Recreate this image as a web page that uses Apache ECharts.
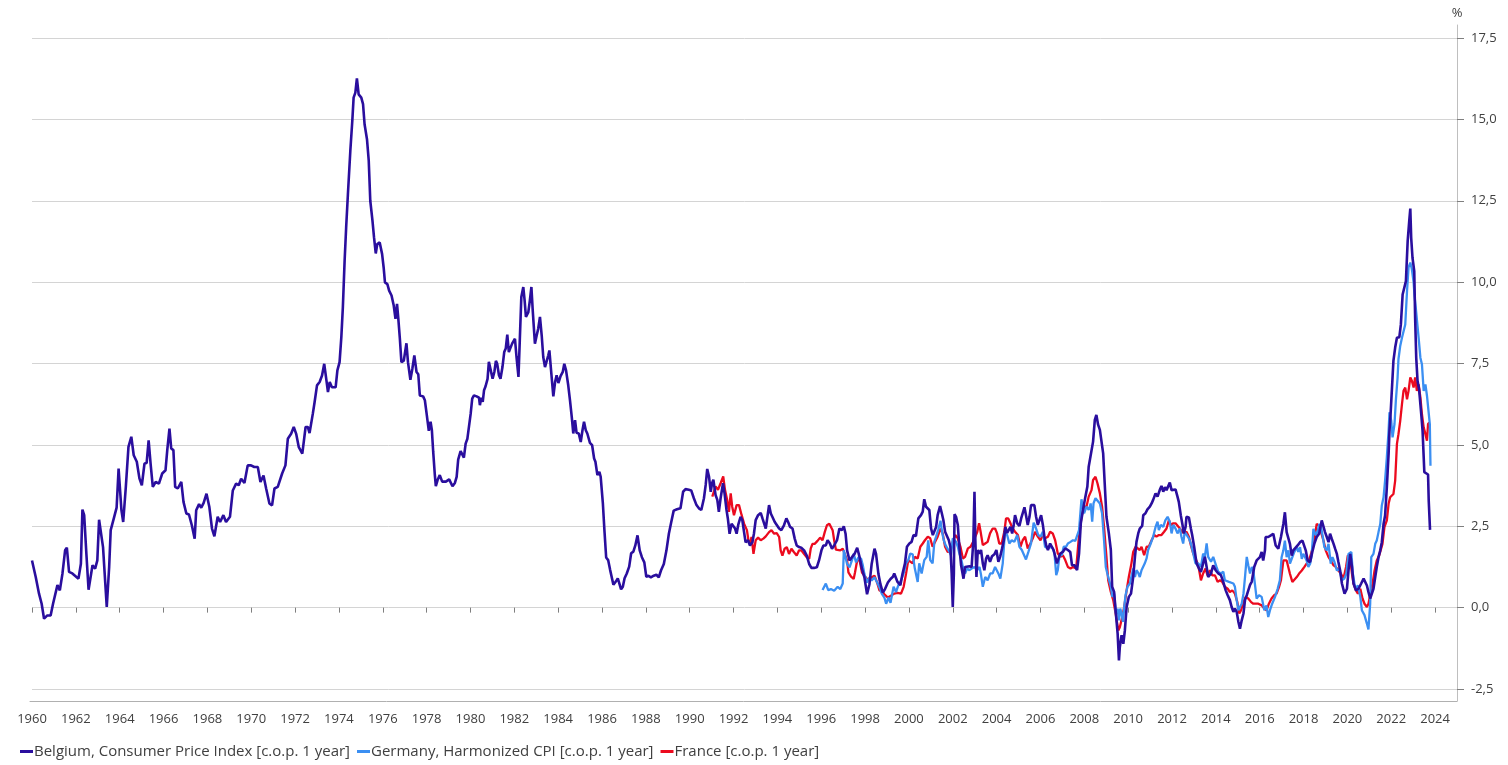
<!DOCTYPE html>
<html>
<head>
<meta charset="utf-8">
<title>Inflation: Belgium, Germany, France</title>
<script src="https://cdn.jsdelivr.net/npm/echarts@6/dist/echarts.min.js"></script>
<style>
  html, body { margin: 0; padding: 0; background: #fff; }
  #chart { width: 1508px; height: 765px; }
</style>
</head>
<body>
<div id="chart"></div>
<script>
// tick labels
const xTickYears = [];
for (let y = 1960; y <= 2024; y += 2) xTickYears.push(y);
const yTickValues = [-2.5, 0, 2.5, 5, 7.5, 10, 12.5, 15, 17.5];

const seriesNames = [
  'Belgium, Consumer Price Index [c.o.p. 1 year]',
  'Germany, Harmonized CPI [c.o.p. 1 year]',
  'France [c.o.p. 1 year]'
];

// [year, % change on previous year]
const belgium = [
  [1960.00,1.45],[1960.17,0.94],[1960.32,0.43],[1960.44,0.12],[1960.55,-0.34],[1960.70,-0.24],[1960.85,-0.24],[1960.96,0.12],
  [1961.16,0.69],[1961.27,0.53],[1961.39,1.05],[1961.51,1.76],[1961.59,1.84],[1961.69,1.10],[1961.84,1.05],[1962.12,0.89],
  [1962.23,1.35],[1962.30,3.01],[1962.38,2.84],[1962.48,1.66],[1962.58,0.55],[1962.76,1.30],[1962.88,1.20],[1962.98,1.45],
  [1963.06,2.70],[1963.14,2.68],[1963.24,1.86],[1963.41,0.02],[1963.52,1.25],[1963.59,2.38],[1963.75,2.79],[1963.86,3.07],
  [1963.95,4.27],[1964.01,4.32],[1964.08,2.99],[1964.16,2.63],[1964.28,3.71],[1964.40,4.94],[1964.53,5.25],[1964.64,4.68],
  [1964.78,4.48],[1964.90,3.97],[1965.01,3.76],[1965.13,4.42],[1965.23,4.45],[1965.32,5.14],[1965.41,4.42],[1965.51,3.71],
  [1965.64,3.86],[1965.79,3.81],[1965.94,4.12],[1966.09,4.22],[1966.17,4.84],[1966.27,5.50],[1966.35,4.89],[1966.45,4.84],
  [1966.53,3.71],[1966.65,3.66],[1966.81,3.86],[1966.91,3.25],[1967.04,2.89],[1967.16,2.86],[1967.29,2.53],[1967.42,2.12],
  [1967.49,2.99],[1967.62,3.18],[1967.72,3.07],[1967.83,3.22],[1967.96,3.50],[1968.09,3.09],[1968.21,2.43],[1968.32,2.19],
  [1968.47,2.79],[1968.58,2.63],[1968.73,2.84],[1968.85,2.63],[1969.03,2.79],[1969.16,3.60],[1969.31,3.81],[1969.43,3.76],
  [1969.54,3.96],[1969.69,3.83],[1969.84,4.37],[1969.99,4.37],[1970.14,4.32],[1970.30,4.32],[1970.42,3.86],[1970.56,4.06],
  [1970.68,3.66],[1970.83,3.20],[1970.95,3.14],[1971.06,3.66],[1971.21,3.71],[1971.41,4.12],[1971.56,4.37],[1971.67,5.19],
  [1971.82,5.34],[1971.94,5.55],[1972.05,5.34],[1972.17,4.93],[1972.33,4.73],[1972.48,5.55],[1972.58,5.55],[1972.66,5.36],
  [1972.81,5.96],[1972.89,6.31],[1973.00,6.83],[1973.12,6.93],[1973.23,7.13],[1973.33,7.49],[1973.43,6.98],[1973.50,6.62],
  [1973.58,6.93],[1973.68,6.77],[1973.85,6.77],[1973.93,7.29],[1974.03,7.54],[1974.11,8.31],[1974.18,9.23],[1974.26,10.66],
  [1974.33,11.68],[1974.41,12.70],[1974.52,14.03],[1974.61,14.95],[1974.67,15.67],[1974.75,15.82],[1974.82,16.26],[1974.90,15.77],
  [1975.02,15.67],[1975.10,15.47],[1975.17,14.85],[1975.28,14.39],[1975.36,13.73],[1975.43,12.50],[1975.53,11.89],[1975.60,11.38],
  [1975.68,10.88],[1975.75,11.17],[1975.86,11.22],[1975.97,10.86],[1976.04,10.45],[1976.10,9.99],[1976.21,9.94],[1976.29,9.74],
  [1976.40,9.59],[1976.50,9.28],[1976.58,8.87],[1976.65,9.33],[1976.71,8.87],[1976.78,8.26],[1976.85,7.54],[1976.96,7.59],
  [1977.08,8.12],[1977.15,7.54],[1977.26,7.00],[1977.35,7.34],[1977.44,7.75],[1977.54,7.24],[1977.62,7.17],[1977.69,6.52],
  [1977.84,6.49],[1977.92,6.37],[1978.00,5.96],[1978.10,5.43],[1978.18,5.71],[1978.24,5.45],[1978.30,4.79],[1978.37,4.12],
  [1978.42,3.73],[1978.50,3.92],[1978.60,4.07],[1978.71,3.87],[1978.88,3.87],[1979.03,3.94],[1979.18,3.73],[1979.29,3.83],
  [1979.37,4.02],[1979.44,4.55],[1979.55,4.81],[1979.63,4.84],[1979.70,4.61],[1979.78,5.04],[1979.86,5.19],[1979.93,5.19],
  [1980.01,5.96],[1980.08,6.42],[1980.16,6.52],[1980.28,6.49],[1980.39,6.45],[1980.43,6.22],[1980.49,6.45],[1980.56,6.32],
  [1980.62,6.68],[1980.69,6.80],[1980.78,7.03],[1980.84,7.55],[1980.92,7.60],[1981.01,7.03],[1981.09,7.24],[1981.16,7.58],
  [1981.22,7.49],[1981.30,7.14],[1981.37,7.03],[1981.46,7.39],[1981.54,7.85],[1981.61,7.96],[1981.68,8.39],[1981.75,7.85],
  [1981.83,7.82],[1981.90,8.11],[1982.03,8.26],[1982.10,7.70],[1982.19,7.09],[1982.25,8.21],[1982.32,9.54],[1982.41,9.85],
  [1982.47,9.44],[1982.53,8.93],[1982.64,9.08],[1982.71,9.44],[1982.78,9.85],[1982.84,9.13],[1982.90,8.52],[1982.94,8.11],
  [1983.02,8.36],[1983.09,8.57],[1983.17,8.93],[1983.25,8.36],[1983.32,7.70],[1983.40,7.39],[1983.47,7.39],[1983.55,7.75],
  [1983.60,7.90],[1983.67,7.34],[1983.78,6.49],[1983.86,6.93],[1983.93,7.14],[1984.01,6.90],[1984.11,7.11],[1984.21,7.24],
  [1984.28,7.49],[1984.36,7.29],[1984.46,6.83],[1984.54,6.37],[1984.62,5.86],[1984.69,5.35],[1984.77,5.76],[1984.84,5.37],
  [1984.94,5.35],[1985.03,5.09],[1985.11,5.45],[1985.18,5.71],[1985.26,5.45],[1985.33,5.35],[1985.45,5.06],[1985.55,4.99],
  [1985.64,4.58],[1985.70,4.48],[1985.79,4.07],[1985.88,4.17],[1985.94,4.02],[1986.04,3.20],[1986.11,2.38],[1986.19,1.54],
  [1986.28,1.46],[1986.37,1.16],[1986.45,1.16],[1986.52,0.70],[1986.63,0.80],[1986.72,0.90],[1986.78,0.77],[1986.87,0.56],
  [1986.95,0.64],[1987.03,0.90],[1987.13,1.05],[1987.24,1.26],[1987.33,1.67],[1987.43,1.72],[1987.52,1.91],[1987.62,2.22],
  [1987.72,1.76],[1987.82,1.55],[1987.93,1.39],[1988.02,0.95],[1988.12,0.98],[1988.23,0.93],[1988.36,0.98],[1988.48,1.01],
  [1988.59,0.93],[1988.69,1.14],[1988.82,1.34],[1988.94,1.76],[1989.05,2.27],[1989.15,2.60],[1989.27,2.98],[1989.42,3.02],
  [1989.58,3.05],[1989.70,3.56],[1989.81,3.64],[1989.96,3.62],[1990.07,3.60],[1990.19,3.36],[1990.31,3.15],[1990.42,3.05],
  [1990.53,3.00],[1990.65,3.36],[1990.73,3.77],[1990.80,4.26],[1990.88,4.03],[1990.96,3.56],[1991.02,3.82],[1991.08,3.93],
  [1991.14,3.98],[1991.18,3.46],[1991.26,3.31],[1991.33,2.94],[1991.41,3.36],[1991.52,3.82],[1991.59,3.51],[1991.68,3.00],
  [1991.74,2.74],[1991.82,2.27],[1991.91,2.58],[1991.99,2.63],[1992.07,2.43],[1992.14,2.27],[1992.22,2.56],[1992.32,2.79],
  [1992.40,2.69],[1992.48,2.32],[1992.55,2.01],[1992.66,2.07],[1992.75,1.91],[1992.86,2.01],[1992.93,2.27],[1993.01,2.69],
  [1993.12,2.84],[1993.24,2.91],[1993.32,2.74],[1993.39,2.69],[1993.47,2.43],[1993.54,2.48],[1993.62,3.15],[1993.70,2.89],
  [1993.77,2.79],[1993.88,2.63],[1993.97,2.67],[1994.08,2.43],[1994.18,2.38],[1994.30,2.53],[1994.41,2.74],[1994.49,2.63],
  [1994.58,2.48],[1994.69,2.43],[1994.79,2.12],[1994.88,1.91],[1994.99,1.86],[1995.09,1.84],[1995.22,1.76],[1995.34,1.60],
  [1995.45,1.34],[1995.55,1.22],[1995.67,1.22],[1995.80,1.24],[1995.90,1.45],[1996.01,1.76],[1996.10,1.91],[1996.21,1.91],
  [1996.29,2.07],[1996.39,1.98],[1996.49,1.81],[1996.59,1.91],[1996.72,2.07],[1996.83,2.43],[1996.94,2.38],[1997.03,2.50],
  [1997.11,2.27],[1997.18,1.76],[1997.29,1.45],[1997.40,1.55],[1997.52,1.65],[1997.64,1.84],[1997.75,1.55],[1997.86,1.19],
  [1997.97,0.93],[1998.09,0.41],[1998.20,0.72],[1998.30,1.34],[1998.43,1.81],[1998.50,1.65],[1998.61,1.03],[1998.70,0.72],
  [1998.81,0.46],[1998.91,0.57],[1999.04,0.77],[1999.16,0.88],[1999.27,0.95],[1999.33,1.05],[1999.48,0.79],[1999.61,0.69],
  [1999.71,1.05],[1999.82,1.36],[1999.91,1.87],[2000.02,1.97],[2000.12,2.02],[2000.21,2.23],[2000.32,2.20],[2000.43,2.74],
  [2000.55,2.84],[2000.63,2.95],[2000.70,3.33],[2000.78,3.10],[2000.86,3.05],[2000.93,3.00],[2001.01,2.43],[2001.09,2.23],
  [2001.16,2.23],[2001.24,2.48],[2001.31,2.84],[2001.42,3.12],[2001.50,2.90],[2001.57,2.69],[2001.65,2.33],[2001.74,2.28],
  [2001.82,2.07],[2001.89,1.87],[2001.95,1.05],[2002.00,0.02],[2002.05,1.05],[2002.08,2.87],[2002.15,2.79],[2002.23,2.54],
  [2002.30,1.87],[2002.38,1.30],[2002.49,0.89],[2002.56,1.25],[2002.65,1.25],[2002.76,1.27],[2002.86,1.25],[2002.94,2.07],
  [2002.99,3.56],[2003.03,2.07],[2003.08,0.94],[2003.14,1.77],[2003.22,1.66],[2003.29,1.77],[2003.37,1.36],[2003.44,1.15],
  [2003.52,1.51],[2003.59,1.61],[2003.70,1.41],[2003.79,1.58],[2003.90,1.64],[2003.99,1.77],[2004.08,1.41],[2004.16,1.56],
  [2004.25,1.82],[2004.33,2.07],[2004.40,2.48],[2004.48,2.30],[2004.55,2.38],[2004.63,2.48],[2004.71,2.28],[2004.78,2.54],
  [2004.84,2.84],[2004.94,2.59],[2005.04,2.51],[2005.12,2.74],[2005.19,2.79],[2005.27,3.08],[2005.34,2.84],[2005.42,2.54],
  [2005.50,2.79],[2005.57,3.15],[2005.72,3.15],[2005.80,2.79],[2005.88,2.54],[2005.95,2.59],[2006.03,2.84],[2006.11,2.54],
  [2006.18,2.18],[2006.26,1.92],[2006.34,1.77],[2006.44,1.97],[2006.52,1.87],[2006.60,1.77],[2006.67,1.71],[2006.75,1.36],
  [2006.82,1.41],[2006.90,1.66],[2007.02,1.71],[2007.13,1.82],[2007.25,1.77],[2007.36,1.71],[2007.44,1.30],[2007.56,1.30],
  [2007.67,1.15],[2007.76,1.66],[2007.84,2.59],[2007.94,3.00],[2008.05,3.41],[2008.14,3.72],[2008.20,4.33],[2008.29,4.38],
  [2008.40,5.10],[2008.48,5.77],[2008.55,5.92],[2008.63,5.62],[2008.71,5.46],[2008.78,5.41],[2008.86,4.74],[2008.93,3.82],
  [2009.01,2.79],[2009.12,2.28],[2009.21,1.77],[2009.27,0.64],[2009.36,0.48],[2009.44,-0.18],[2009.52,-0.80],[2009.58,-1.62],
  [2009.62,-1.21],[2009.70,-0.85],[2009.78,-1.11],[2009.85,-0.70],[2009.93,0.02],[2010.03,0.33],[2010.13,0.43],[2010.23,0.94],
  [2010.31,1.56],[2010.38,2.02],[2010.46,2.28],[2010.53,2.43],[2010.64,2.51],[2010.69,2.84],[2010.79,2.90],[2010.88,3.02],
  [2010.99,3.10],[2011.07,3.20],[2011.14,3.31],[2011.25,3.51],[2011.34,3.41],[2011.44,3.61],[2011.52,3.74],[2011.60,3.56],
  [2011.68,3.70],[2011.75,3.61],[2011.83,3.67],[2011.90,3.84],[2011.98,3.61],[2012.06,3.67],[2012.16,3.63],[2012.25,3.41],
  [2012.31,3.25],[2012.40,2.84],[2012.48,2.54],[2012.54,2.28],[2012.62,2.48],[2012.66,2.79],[2012.77,2.77],[2012.86,2.43],
  [2012.92,2.23],[2013.01,1.87],[2013.12,1.36],[2013.23,1.20],[2013.32,1.10],[2013.42,1.36],[2013.50,1.56],[2013.58,1.25],
  [2013.65,0.94],[2013.78,1.05],[2013.88,1.30],[2013.99,1.15],[2014.11,1.05],[2014.23,1.00],[2014.34,0.79],[2014.45,0.53],
  [2014.54,0.38],[2014.64,0.23],[2014.72,0.02],[2014.80,-0.13],[2014.87,-0.03],[2014.95,-0.13],[2015.03,-0.44],[2015.10,-0.65],
  [2015.18,-0.39],[2015.26,-0.18],[2015.33,0.23],[2015.41,0.38],[2015.48,0.53],[2015.56,0.70],[2015.64,0.80],[2015.75,1.25],
  [2015.86,1.45],[2016.01,1.55],[2016.09,1.71],[2016.16,1.45],[2016.24,1.76],[2016.27,2.17],[2016.39,2.17],[2016.51,2.22],
  [2016.62,2.27],[2016.73,1.91],[2016.85,1.81],[2016.97,2.17],[2017.08,2.57],[2017.15,2.93],[2017.23,2.32],[2017.31,2.27],
  [2017.38,1.96],[2017.46,1.60],[2017.53,1.76],[2017.61,1.81],[2017.73,1.91],[2017.84,2.01],[2017.95,2.06],[2018.04,2.08],
  [2018.10,1.76],[2018.19,1.45],[2018.30,1.40],[2018.40,1.71],[2018.49,1.96],[2018.60,2.17],[2018.71,2.27],[2018.83,2.68],
  [2018.91,2.73],[2018.98,2.32],[2019.06,2.17],[2019.14,2.01],[2019.21,2.27],[2019.29,2.11],[2019.37,1.96],[2019.44,1.81],
  [2019.52,1.65],[2019.59,1.40],[2019.67,1.14],[2019.75,0.74],[2019.87,0.43],[2019.98,0.58],[2020.05,1.14],[2020.13,1.65],
  [2020.21,1.25],[2020.28,0.74],[2020.39,0.53],[2020.51,0.58],[2020.63,0.74],[2020.74,0.89],[2020.81,0.84],[2020.89,0.68],
  [2020.96,0.48],[2021.04,0.28],[2021.12,0.33],[2021.19,0.58],[2021.27,0.94],[2021.34,1.25],[2021.42,1.55],[2021.50,1.76],
  [2021.57,2.01],[2021.65,2.57],[2021.72,2.83],[2021.80,3.70],[2021.88,4.72],[2021.92,5.43],[2021.97,5.94],[2022.03,5.97],
  [2022.10,7.58],[2022.18,7.99],[2022.26,8.29],[2022.37,8.31],[2022.44,8.70],[2022.52,9.62],[2022.61,9.67],[2022.67,10.03],
  [2022.75,11.26],[2022.82,11.87],[2022.87,12.26],[2022.91,11.36],[2022.97,10.75],[2023.05,10.34],[2023.09,8.91],[2023.14,7.68],
  [2023.20,6.97],[2023.27,6.71],[2023.33,6.66],[2023.37,5.94],[2023.43,5.43],[2023.51,4.16],[2023.59,4.11],[2023.68,4.09],
  [2023.71,3.29],[2023.77,2.39]
];

const germany = [
  [1996.06,0.54],[1996.21,0.74],[1996.32,0.54],[1996.44,0.57],[1996.59,0.52],[1996.75,0.64],[1996.87,0.57],[1996.98,0.74],
  [1997.03,1.76],[1997.09,1.81],[1997.18,1.34],[1997.29,1.24],[1997.40,1.45],[1997.48,1.65],[1997.59,1.39],[1997.70,1.55],
  [1997.82,1.50],[1997.90,1.29],[1997.97,1.03],[1998.09,0.77],[1998.20,0.93],[1998.30,0.83],[1998.43,0.93],[1998.55,0.77],
  [1998.66,0.62],[1998.76,0.43],[1998.88,0.31],[1998.96,0.12],[1999.07,0.31],[1999.16,0.15],[1999.30,0.64],[1999.41,0.48],
  [1999.52,0.69],[1999.64,0.84],[1999.76,1.05],[1999.87,1.36],[1999.97,1.46],[2000.06,1.66],[2000.17,1.64],[2000.27,1.20],
  [2000.40,0.79],[2000.47,1.36],[2000.58,1.05],[2000.70,1.46],[2000.81,1.56],[2000.88,2.07],[2000.97,1.46],[2001.08,1.36],
  [2001.16,2.02],[2001.24,2.18],[2001.34,2.40],[2001.44,2.67],[2001.51,2.33],[2001.59,2.07],[2001.67,1.92],[2001.74,1.87],
  [2001.85,1.71],[2001.92,1.61],[2002.00,2.13],[2002.08,2.07],[2002.15,2.02],[2002.23,1.87],[2002.30,1.66],[2002.38,1.51],
  [2002.46,1.25],[2002.56,1.05],[2002.65,1.20],[2002.76,1.15],[2002.86,1.20],[2002.99,1.25],[2003.11,1.15],[2003.22,1.25],
  [2003.29,1.00],[2003.37,0.64],[2003.48,0.94],[2003.59,0.84],[2003.71,1.05],[2003.82,1.05],[2003.93,1.25],[2004.02,1.20],
  [2004.08,1.05],[2004.17,0.89],[2004.28,1.36],[2004.38,2.33],[2004.48,2.23],[2004.58,1.97],[2004.69,2.07],[2004.81,2.02],
  [2004.94,2.23],[2005.04,1.87],[2005.15,1.77],[2005.24,1.82],[2005.34,1.48],[2005.45,1.71],[2005.57,1.97],[2005.69,2.61],
  [2005.80,2.43],[2005.90,2.23],[2006.00,2.18],[2006.11,2.33],[2006.21,1.87],[2006.34,1.82],[2006.44,1.87],[2006.56,1.82],
  [2006.64,1.66],[2006.72,1.00],[2006.79,1.15],[2006.87,1.61],[2006.97,1.61],[2007.06,1.87],[2007.17,1.87],[2007.25,1.97],
  [2007.37,2.02],[2007.48,2.07],[2007.59,2.05],[2007.68,2.07],[2007.76,2.38],[2007.87,3.33],[2007.99,2.90],[2008.10,3.10],
  [2008.20,3.00],[2008.29,3.20],[2008.36,2.64],[2008.42,3.20],[2008.51,3.36],[2008.60,3.39],[2008.71,3.20],[2008.81,2.90],
  [2008.90,2.07],[2008.98,1.25],[2009.05,1.05],[2009.13,0.84],[2009.21,0.64],[2009.28,0.33],[2009.36,0.43],[2009.44,-0.18],
  [2009.52,-0.03],[2009.58,-0.39],[2009.64,-0.03],[2009.70,-0.18],[2009.76,-0.44],[2009.82,0.02],[2009.88,0.38],[2009.97,0.64],
  [2010.08,0.74],[2010.15,0.79],[2010.23,1.20],[2010.31,0.94],[2010.38,1.15],[2010.46,1.07],[2010.53,0.94],[2010.61,1.15],
  [2010.69,1.20],[2010.76,1.36],[2010.84,1.51],[2010.91,1.77],[2011.03,1.97],[2011.14,2.18],[2011.25,2.48],[2011.34,2.64],
  [2011.40,2.38],[2011.49,2.54],[2011.60,2.48],[2011.70,2.69],[2011.80,2.79],[2011.90,2.64],[2011.98,2.28],[2012.06,2.54],
  [2012.16,2.43],[2012.25,2.28],[2012.36,2.43],[2012.43,2.18],[2012.51,1.97],[2012.58,2.33],[2012.66,2.28],[2012.77,2.13],
  [2012.86,1.97],[2012.97,1.66],[2013.07,1.36],[2013.20,1.36],[2013.32,1.25],[2013.42,1.66],[2013.50,1.56],[2013.58,1.97],
  [2013.65,1.56],[2013.78,1.41],[2013.88,1.56],[2013.96,1.61],[2014.03,1.25],[2014.11,1.10],[2014.23,1.05],[2014.34,1.10],
  [2014.41,0.84],[2014.49,0.79],[2014.60,0.79],[2014.69,0.74],[2014.80,0.74],[2014.87,0.64],[2014.95,0.23],[2015.03,-0.08],
  [2015.10,0.02],[2015.18,0.12],[2015.26,0.43],[2015.33,0.94],[2015.41,1.56],[2015.48,1.30],[2015.56,1.05],[2015.64,1.25],
  [2015.71,1.14],[2015.78,0.74],[2015.86,0.28],[2015.97,0.38],[2016.09,0.33],[2016.21,-0.08],[2016.31,0.07],[2016.39,-0.29],
  [2016.47,-0.08],[2016.57,0.12],[2016.70,0.33],[2016.82,0.58],[2016.92,0.84],[2017.00,1.55],[2017.08,1.76],[2017.15,2.06],
  [2017.23,1.55],[2017.31,1.76],[2017.38,1.35],[2017.49,1.55],[2017.58,1.71],[2017.69,1.86],[2017.76,1.71],[2017.84,1.86],
  [2017.92,1.50],[2017.99,1.65],[2018.07,1.55],[2018.14,1.45],[2018.22,1.25],[2018.30,1.35],[2018.37,1.60],[2018.45,2.42],
  [2018.56,2.22],[2018.65,2.37],[2018.72,2.57],[2018.80,2.47],[2018.88,2.17],[2018.95,1.86],[2019.06,1.76],[2019.14,1.96],
  [2019.24,1.35],[2019.32,1.55],[2019.41,1.40],[2019.52,1.14],[2019.63,1.20],[2019.75,0.84],[2019.86,0.89],[2019.95,1.04],
  [2020.05,1.65],[2020.18,1.71],[2020.25,1.04],[2020.36,0.58],[2020.48,0.68],[2020.59,0.33],[2020.66,-0.08],[2020.78,-0.23],
  [2020.89,-0.49],[2020.96,-0.67],[2021.04,0.12],[2021.09,1.55],[2021.19,1.65],[2021.27,1.96],[2021.34,2.06],[2021.42,2.32],
  [2021.50,2.57],[2021.57,3.14],[2021.65,3.39],[2021.72,3.90],[2021.80,4.62],[2021.88,5.43],[2021.92,6.00],[2022.00,5.74],
  [2022.06,5.23],[2022.15,5.64],[2022.21,6.35],[2022.29,7.07],[2022.33,7.63],[2022.41,8.04],[2022.49,8.29],[2022.56,8.24],
  [2022.64,8.70],[2022.72,9.72],[2022.79,10.45],[2022.87,10.60],[2022.94,10.40],[2023.02,10.00],[2023.06,9.60],[2023.12,9.21],
  [2023.18,9.26],[2023.25,8.29],[2023.33,7.68],[2023.40,7.48],[2023.48,6.66],[2023.56,6.86],[2023.63,6.51],[2023.71,6.46],
  [2023.76,5.64],[2023.79,4.36]
];

const france = [
  [1991.03,3.41],[1991.18,3.72],[1991.29,3.62],[1991.41,3.82],[1991.53,4.03],[1991.61,3.62],[1991.71,3.31],[1991.79,2.94],
  [1991.87,3.51],[1991.94,3.10],[1992.02,2.84],[1992.14,3.15],[1992.25,3.15],[1992.37,2.84],[1992.48,2.58],[1992.61,2.38],
  [1992.68,2.07],[1992.76,1.96],[1992.82,2.17],[1992.91,1.65],[1993.01,2.07],[1993.12,2.15],[1993.24,2.07],[1993.36,2.12],
  [1993.47,2.19],[1993.62,2.32],[1993.73,2.38],[1993.85,2.27],[1993.97,2.29],[1994.08,2.17],[1994.15,1.76],[1994.23,1.60],
  [1994.33,1.81],[1994.43,1.86],[1994.53,1.65],[1994.64,1.81],[1994.76,1.70],[1994.88,1.60],[1994.99,1.76],[1995.09,1.76],
  [1995.22,1.65],[1995.34,1.55],[1995.45,1.50],[1995.52,1.81],[1995.60,1.96],[1995.70,1.96],[1995.83,2.05],[1995.95,2.15],
  [1996.06,2.07],[1996.16,2.32],[1996.26,2.53],[1996.37,2.58],[1996.44,2.63],[1996.52,2.38],[1996.59,2.07],[1996.67,1.78],
  [1996.75,1.81],[1996.87,1.76],[1996.98,1.81],[1997.06,1.76],[1997.18,1.45],[1997.24,1.08],[1997.36,0.95],[1997.48,0.88],
  [1997.54,1.08],[1997.64,1.45],[1997.75,1.45],[1997.86,1.08],[1997.97,0.98],[1998.09,0.88],[1998.20,0.83],[1998.30,0.93],
  [1998.43,0.98],[1998.55,0.77],[1998.66,0.52],[1998.76,0.52],[1998.88,0.41],[1999.04,0.31],[1999.16,0.36],[1999.33,0.43],
  [1999.48,0.45],[1999.64,0.43],[1999.76,0.64],[1999.87,1.05],[1999.97,1.46],[2000.06,1.51],[2000.17,1.36],[2000.27,1.56],
  [2000.40,1.51],[2000.52,1.87],[2000.63,1.97],[2000.73,2.07],[2000.86,2.18],[2000.97,2.13],[2001.08,1.87],[2001.19,2.02],
  [2001.31,2.18],[2001.44,2.43],[2001.54,2.28],[2001.65,1.87],[2001.77,1.71],[2001.89,1.71],[2002.00,2.02],[2002.11,2.23],
  [2002.23,2.13],[2002.35,1.87],[2002.46,1.51],[2002.56,1.56],[2002.69,1.82],[2002.81,1.87],[2002.93,2.02],[2003.03,2.18],
  [2003.12,2.33],[2003.20,2.59],[2003.27,2.33],[2003.37,1.92],[2003.48,1.97],[2003.59,2.02],[2003.70,2.28],[2003.82,2.43],
  [2003.93,2.43],[2004.02,2.28],[2004.12,1.97],[2004.23,1.97],[2004.35,2.33],[2004.43,2.74],[2004.53,2.74],[2004.63,2.59],
  [2004.73,2.43],[2004.84,2.33],[2004.97,2.23],[2005.09,1.87],[2005.19,2.07],[2005.30,2.18],[2005.42,1.82],[2005.54,1.97],
  [2005.65,2.13],[2005.75,2.33],[2005.88,2.18],[2006.00,2.07],[2006.11,2.23],[2006.21,2.13],[2006.34,2.18],[2006.44,2.33],
  [2006.56,2.28],[2006.67,2.07],[2006.79,1.66],[2006.91,1.56],[2007.02,1.61],[2007.13,1.46],[2007.25,1.25],[2007.37,1.20],
  [2007.48,1.25],[2007.63,1.20],[2007.74,2.07],[2007.87,2.79],[2007.99,3.10],[2008.10,3.10],[2008.20,3.41],[2008.33,3.61],
  [2008.40,3.92],[2008.51,4.02],[2008.60,3.82],[2008.71,3.51],[2008.81,3.10],[2008.90,2.48],[2009.01,1.56],[2009.09,0.84],
  [2009.21,0.48],[2009.32,0.23],[2009.43,-0.18],[2009.55,-0.70],[2009.62,-0.60],[2009.73,-0.29],[2009.82,0.02],[2009.93,0.53],
  [2010.03,0.94],[2010.15,1.36],[2010.23,1.71],[2010.34,1.87],[2010.43,1.82],[2010.53,1.77],[2010.61,1.87],[2010.73,1.61],
  [2010.84,1.87],[2010.94,1.87],[2011.07,2.07],[2011.19,2.23],[2011.29,2.18],[2011.40,2.23],[2011.52,2.23],[2011.64,2.33],
  [2011.75,2.43],[2011.86,2.69],[2011.95,2.54],[2012.06,2.59],[2012.16,2.59],[2012.25,2.54],[2012.36,2.43],[2012.46,2.33],
  [2012.56,2.28],[2012.66,2.33],[2012.77,2.18],[2012.86,1.92],[2012.97,1.66],[2013.07,1.51],[2013.20,1.30],[2013.32,0.84],
  [2013.42,1.05],[2013.53,1.20],[2013.62,0.99],[2013.73,1.15],[2013.84,0.99],[2013.96,0.99],[2014.08,0.79],[2014.19,0.84],
  [2014.29,0.79],[2014.41,0.64],[2014.54,0.58],[2014.64,0.48],[2014.75,0.53],[2014.87,0.43],[2014.98,0.17],[2015.07,-0.18],
  [2015.15,-0.08],[2015.26,0.17],[2015.36,0.33],[2015.48,0.28],[2015.61,0.17],[2015.71,0.12],[2015.82,0.12],[2015.94,0.12],
  [2016.09,0.07],[2016.21,-0.03],[2016.31,-0.08],[2016.42,0.12],[2016.54,0.28],[2016.66,0.38],[2016.77,0.43],[2016.88,0.63],
  [2016.97,0.84],[2017.08,1.45],[2017.15,1.50],[2017.23,1.45],[2017.31,1.40],[2017.38,1.04],[2017.49,0.79],[2017.58,0.79],
  [2017.69,0.94],[2017.79,1.04],[2017.92,1.14],[2018.04,1.25],[2018.14,1.35],[2018.25,1.45],[2018.37,1.71],[2018.49,2.06],
  [2018.60,2.57],[2018.71,2.52],[2018.80,2.32],[2018.91,2.06],[2019.01,1.76],[2019.14,1.55],[2019.24,1.45],[2019.37,1.30],
  [2019.47,1.25],[2019.59,1.14],[2019.71,1.04],[2019.82,0.89],[2019.94,1.25],[2020.02,1.60],[2020.13,1.50],[2020.21,1.04],
  [2020.28,0.74],[2020.39,0.53],[2020.48,0.43],[2020.59,0.58],[2020.69,0.28],[2020.78,0.12],[2020.89,0.02],[2020.96,0.12],
  [2021.04,0.38],[2021.15,0.74],[2021.24,1.14],[2021.34,1.45],[2021.45,1.60],[2021.54,1.55],[2021.60,1.96],[2021.69,2.47],
  [2021.80,2.68],[2021.88,3.19],[2021.95,3.39],[2022.03,3.39],[2022.10,3.49],[2022.18,3.90],[2022.26,5.03],[2022.33,5.33],
  [2022.41,5.74],[2022.49,6.25],[2022.56,6.66],[2022.64,6.76],[2022.72,6.40],[2022.79,6.66],[2022.87,7.07],[2022.94,6.97],
  [2023.02,6.76],[2023.09,7.07],[2023.17,6.66],[2023.25,6.86],[2023.33,6.46],[2023.40,5.94],[2023.48,5.54],[2023.56,5.33],
  [2023.63,5.13],[2023.68,5.64],[2023.74,5.69]
];

const colors = { belgium: '#2a0e9e', germany: '#3b8ff2', france: '#ec0a1e' };
const fontFamily = "'Open Sans', 'Noto Sans', sans-serif";
const labelColor = '#404040';

const chart = echarts.init(document.getElementById('chart'), null, { renderer: 'canvas' });

const lineSeries = (name, data, color, width, z) => ({
  name: name,
  type: 'line',
  xAxisIndex: 0,
  yAxisIndex: 0,
  data: data,
  showSymbol: false,
  symbol: 'none',
  z: z,
  lineStyle: { color: color, width: width },
  itemStyle: { color: color }
});

const option = {
  animation: false,
  backgroundColor: '#fff',
  textStyle: { fontFamily: fontFamily },
  legend: {
    data: seriesNames,
    left: 15,
    top: 739,
    icon: 'rect',
    itemWidth: 13,
    itemHeight: 3,
    itemGap: 7,
    textStyle: { fontSize: 15, color: labelColor, padding: [0, 0, 0, -4] }
  },
  grid: [
    // plotting area: -2,5 .. 17,5 and 1960 .. 2025
    { left: 32, right: 51, top: 38, bottom: 76 },
    // frame that carries the axis lines, a bit taller than the plot
    { left: 30, right: 51, top: 25, bottom: 64 }
  ],
  xAxis: [
    {
      type: 'value',
      gridIndex: 0,
      min: 1960,
      max: 2025,
      interval: 2,
      offset: 12,
      axisLine: { show: false },
      axisTick: { show: true, length: 5, customValues: xTickYears, lineStyle: { color: '#7f7f7f' } },
      axisLabel: {
        customValues: xTickYears,
        fontSize: 13,
        color: labelColor,
        margin: 12,
        formatter: v => String(v)
      },
      splitLine: { show: false }
    },
    {
      type: 'value',
      gridIndex: 1,
      min: 0,
      max: 1,
      axisLine: { show: true, onZero: false, lineStyle: { color: '#b0b0b0' } },
      axisTick: { show: false },
      axisLabel: { show: false },
      splitLine: { show: false }
    }
  ],
  yAxis: [
    {
      type: 'value',
      gridIndex: 0,
      position: 'right',
      min: -2.5,
      max: 17.5,
      interval: 2.5,
      axisLine: { show: false, onZero: false },
      axisTick: { show: true, length: 7, lineStyle: { color: '#7f7f7f' } },
      axisLabel: {
        fontSize: 13,
        color: labelColor,
        margin: 14,
        formatter: v => v.toFixed(1).replace('.', ',')
      },
      splitLine: { show: true, lineStyle: { color: '#d4d4d4', width: 1 } }
    },
    {
      type: 'value',
      gridIndex: 1,
      position: 'right',
      min: 0,
      max: 1,
      name: '%',
      nameLocation: 'end',
      nameGap: 12,
      nameTextStyle: { fontSize: 13, color: labelColor, align: 'center', verticalAlign: 'middle' },
      axisLine: { show: true, onZero: false, lineStyle: { color: '#bfbfbf' } },
      axisTick: { show: false },
      axisLabel: { show: false },
      splitLine: { show: false }
    }
  ],
  series: [
    lineSeries(seriesNames[2], france, colors.france, 2.3, 2),
    lineSeries(seriesNames[1], germany, colors.germany, 2.3, 3),
    lineSeries(seriesNames[0], belgium, colors.belgium, 2.6, 4)
  ]
};

chart.setOption(option);
</script>
</body>
</html>
